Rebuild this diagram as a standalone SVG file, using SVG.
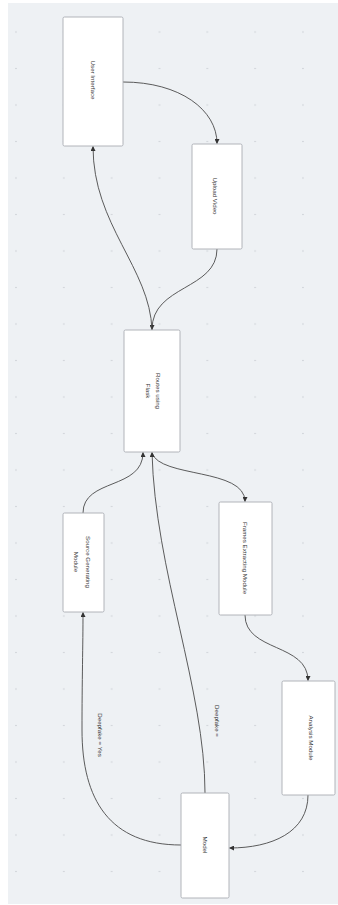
<svg xmlns="http://www.w3.org/2000/svg" width="338" height="905" viewBox="0 0 338 905">
<style>
.node rect{fill:#ffffff;stroke:#a9adb2;stroke-width:0.9}
.node text,.lbl{font-family:"Liberation Sans",Arial,sans-serif;font-size:6.2px;fill:#333;text-anchor:middle;dominant-baseline:central}
.edge{fill:none;stroke:#4a4a4a;stroke-width:0.9}
</style>
<defs>
<pattern id="dots" x="-7.9" y="13.75" width="47.83" height="36.5" patternUnits="userSpaceOnUse">
<circle cx="23.9" cy="18.25" r="0.8" fill="#c9cdd3"/>
</pattern>
<marker id="arr" viewBox="0 0 10 10" refX="9" refY="5" markerWidth="5" markerHeight="5" markerUnits="userSpaceOnUse" orient="auto">
<path d="M0,0 L10,5 L0,10 z" fill="#333"/>
</marker>
</defs>
<rect x="0" y="0" width="338" height="905" fill="#ffffff"/>
<rect x="8" y="3" width="330" height="901" fill="#eef1f4"/>
<rect x="8" y="3" width="330" height="901" fill="url(#dots)"/>

<g id="connectors">
<path class="edge" d="M123,82 C180,82 217,110 217,143.5" marker-end="url(#arr)"/>
<path class="edge" d="M217,249 C217,290 152,285 152,329.5" marker-end="url(#arr)"/>
<path class="edge" d="M152,330 C150,268 93,225 93,146.5" marker-end="url(#arr)"/>
<path class="edge" d="M83,513 C83,478 143,490 143,452.5" marker-end="url(#arr)"/>
<path class="edge" d="M152,453 C160,478 245,468 245,501.5" marker-end="url(#arr)"/>
<path class="edge" d="M205,793 C205,690 155,570 152,452.5" marker-end="url(#arr)"/>
<path class="edge" d="M181,845 C110,845 82,800 82,730 C82,680 83,645 83,612.5" marker-end="url(#arr)"/>
<path class="edge" d="M245,615 C245,652 308,643 308,680.5" marker-end="url(#arr)"/>
<path class="edge" d="M308,795 C308,832 272,848 229.5,848" marker-end="url(#arr)"/>
<text class="lbl" transform="translate(217,721) rotate(90)">Deepfake =</text>
<text class="lbl" transform="translate(100,735) rotate(90)">Deepfake = Yes</text>
</g>

<g id="user-interface" class="node">
<rect x="63" y="17" width="60" height="129" rx="1.5"/>
<text transform="translate(93,80) rotate(90)">User Interface</text>
</g>
<g id="upload-video" class="node">
<rect x="192" y="144" width="50" height="105" rx="1.5"/>
<text transform="translate(215,196) rotate(90)">Upload Video</text>
</g>
<g id="routes-flask" class="node">
<rect x="124" y="330" width="56" height="122" rx="1.5"/>
<text transform="translate(154,391) rotate(90)"><tspan x="0" y="-5">Routes using</tspan><tspan x="0" y="5">Flask</tspan></text>
</g>
<g id="source-generating" class="node">
<rect x="63" y="513" width="41" height="99" rx="1.5"/>
<text transform="translate(83,562) rotate(90)"><tspan x="0" y="-6">Source Generating</tspan><tspan x="0" y="6">Module</tspan></text>
</g>
<g id="frames-extracting" class="node">
<rect x="219" y="502" width="53" height="113" rx="1.5"/>
<text transform="translate(245,558) rotate(90)">Frames Extracting Module</text>
</g>
<g id="analysis-module" class="node">
<rect x="282" y="681" width="53" height="114" rx="1.5"/>
<text transform="translate(311,738) rotate(90)">Analysis Module</text>
</g>
<g id="model" class="node">
<rect x="181" y="793" width="48" height="105" rx="1.5"/>
<text transform="translate(205,845) rotate(90)">Model</text>
</g>
</svg>
